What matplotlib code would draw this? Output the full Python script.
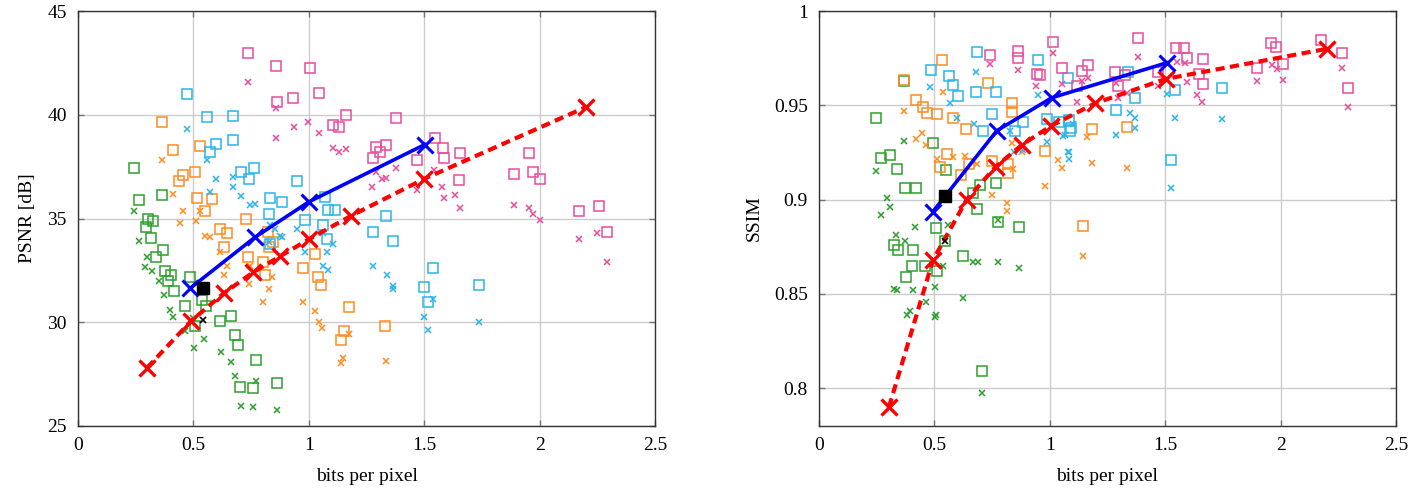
import matplotlib
matplotlib.use("Agg")
import matplotlib.pyplot as plt

plt.rcParams["font.family"] = ["Liberation Serif", "DejaVu Serif"]

GREEN, ORANGE, CYAN, PINK = "#2ca02c", "#ff8c21", "#29b5e8", "#ea4c9c"

# ---------------- left panel: PSNR ----------------
l_green_sq = [(0.242, 37.45), (0.264, 35.9), (0.364, 36.15), (0.303, 35.0), (0.325, 34.86), (0.294, 34.6),
              (0.316, 34.04), (0.368, 33.46), (0.338, 33.13), (0.377, 32.45), (0.403, 32.3), (0.39, 31.97),
              (0.416, 31.5), (0.485, 32.2), (0.463, 30.8), (0.537, 31.06), (0.554, 30.77), (0.506, 29.8),
              (0.615, 30.05), (0.662, 30.3), (0.68, 29.38), (0.693, 28.9), (0.771, 28.2), (0.701, 26.88),
              (0.758, 26.83), (0.861, 27.07)]
l_green_x = [(0.242, 35.34), (0.264, 33.9), (0.299, 33.13), (0.29, 32.64), (0.32, 32.45), (0.351, 31.97),
             (0.372, 31.3), (0.398, 30.6), (0.411, 30.24), (0.463, 29.57), (0.502, 28.75), (0.545, 29.2),
             (0.619, 28.56), (0.662, 28.08), (0.68, 27.4), (0.706, 25.96), (0.758, 25.9), (0.861, 25.77),
             (0.771, 27.16), (0.50, 30.2)]
l_orange_sq = [(0.364, 39.66), (0.411, 38.3), (0.528, 38.5), (0.455, 37.1), (0.506, 37.26), (0.437, 36.8),
               (0.515, 36.0), (0.58, 35.96), (0.55, 35.34), (0.727, 35.0), (0.615, 34.47), (0.645, 34.28),
               (0.632, 33.65), (0.736, 33.13), (0.8, 32.88), (0.81, 32.3), (0.827, 33.65), (0.974, 32.6),
               (0.823, 34.33), (0.844, 33.85), (1.026, 33.27), (1.04, 32.2), (1.052, 31.78), (1.173, 30.72),
               (1.152, 29.57), (1.139, 29.13), (1.329, 29.8)]
l_orange_x = [(0.364, 37.84), (0.411, 36.2), (0.455, 35.34), (0.528, 35.34), (0.442, 34.8), (0.511, 34.86),
              (0.55, 34.18), (0.571, 34.13), (0.615, 33.4), (0.645, 32.7), (0.632, 32.3), (0.74, 31.83),
              (0.8, 30.96), (0.827, 31.6), (0.84, 32.16), (0.974, 30.96), (0.745, 32.7), (1.026, 30.53),
              (1.043, 30.0), (1.056, 29.7), (1.173, 29.42), (1.147, 28.27), (1.139, 28.03), (1.333, 28.13)]
l_cyan_sq = [(0.472, 41.0), (0.558, 39.9), (0.671, 39.95), (0.597, 38.6), (0.671, 38.8), (0.571, 38.2),
             (0.706, 37.26), (0.762, 37.45), (0.74, 36.9), (0.948, 36.8), (0.831, 36.0), (0.883, 35.8),
             (0.827, 35.24), (0.983, 34.95), (1.069, 36.06), (1.082, 35.43), (1.113, 35.43), (1.06, 34.7),
             (1.078, 34.0), (0.831, 33.75), (1.333, 35.14), (1.277, 34.33), (1.364, 33.9), (1.537, 32.6),
             (1.498, 31.68), (1.515, 30.96), (1.736, 31.78)]
l_cyan_x = [(0.472, 39.33), (0.558, 37.8), (0.597, 36.9), (0.671, 37.0), (0.671, 36.5), (0.571, 36.3),
            (0.706, 36.1), (0.745, 35.67), (0.766, 35.7), (0.827, 33.85), (0.874, 34.18), (0.948, 34.47),
            (0.831, 34.7), (0.853, 34.47), (0.883, 34.13), (0.983, 33.4), (1.06, 34.3), (1.104, 33.75),
            (1.06, 32.7), (1.078, 33.37), (1.082, 32.5), (1.277, 32.7), (1.337, 32.3), (1.364, 31.73),
            (1.364, 31.6), (1.537, 31.1), (1.498, 30.24), (1.515, 29.62), (1.736, 30.0)]
l_pink_sq = [(0.736, 42.98), (0.857, 42.36), (1.004, 42.26), (0.861, 40.62), (0.93, 40.8), (1.043, 41.06),
             (1.16, 40.0), (1.104, 39.5), (1.13, 39.42), (1.377, 39.86), (1.29, 38.46), (1.333, 38.56),
             (1.307, 38.22), (1.277, 37.93), (1.468, 37.8), (1.545, 38.9), (1.58, 38.4), (1.584, 37.93),
             (1.654, 38.17), (1.649, 36.87), (1.952, 38.17), (1.887, 37.16), (1.97, 37.26), (2.0, 36.9),
             (2.17, 35.34), (2.256, 35.58), (2.29, 34.33)]
l_pink_x = [(0.736, 41.6), (0.857, 40.34), (0.935, 39.42), (0.86, 38.9), (0.995, 39.67), (1.043, 39.13),
            (1.104, 38.4), (1.13, 38.2), (1.16, 38.37), (1.377, 37.45), (1.29, 37.26), (1.316, 36.9),
            (1.333, 36.97), (1.273, 36.54), (1.468, 36.35), (1.541, 37.36), (1.576, 36.54), (1.584, 36.0),
            (1.632, 36.15), (1.654, 35.53), (1.887, 35.67), (1.952, 35.53), (1.97, 35.2), (2.0, 34.95),
            (2.17, 34.0), (2.25, 34.3), (2.29, 32.9)]

l_blue_bpp = [0.485, 0.766, 1.0, 1.502]
l_blue_psnr = [31.63, 34.09, 35.8, 38.56]
l_red_bpp = [0.299, 0.489, 0.632, 0.758, 0.874, 1.0, 1.185, 1.498, 2.203]
l_red_psnr = [27.8, 30.05, 31.4, 32.4, 33.17, 34.0, 35.14, 36.9, 40.38]
l_black_sq = (0.541, 31.63)
l_black_x = (0.54, 30.1)

# ---------------- right panel: SSIM ----------------
r_green_sq = [(0.247, 0.9434), (0.268, 0.922), (0.307, 0.9238), (0.338, 0.9164), (0.372, 0.9063),
              (0.42, 0.9063), (0.494, 0.930), (0.550, 0.9159), (0.368, 0.963), (0.697, 0.908),
              (0.766, 0.909), (0.684, 0.8952), (0.506, 0.8847), (0.775, 0.888), (0.866, 0.8857),
              (0.325, 0.876), (0.342, 0.8735), (0.407, 0.8735), (0.545, 0.8783), (0.623, 0.870),
              (0.403, 0.865), (0.459, 0.865), (0.511, 0.8624), (0.377, 0.859), (0.706, 0.809),
              (0.667, 0.9037)]
r_green_x = [(0.368, 0.9312), (0.247, 0.9153), (0.294, 0.901), (0.307, 0.8963), (0.268, 0.892),
             (0.775, 0.889), (0.416, 0.8857), (0.333, 0.8815), (0.558, 0.8868), (0.372, 0.8783),
             (0.537, 0.8646), (0.667, 0.8667), (0.688, 0.8672), (0.775, 0.8672), (0.866, 0.8635),
             (0.623, 0.8476), (0.325, 0.8524), (0.34, 0.852), (0.407, 0.852), (0.502, 0.8535),
             (0.463, 0.8455), (0.394, 0.8407), (0.381, 0.8386), (0.506, 0.8386), (0.502, 0.8376),
             (0.706, 0.7974)]
r_orange_sq = [(0.532, 0.974), (0.368, 0.9635), (0.420, 0.953), (0.450, 0.949), (0.468, 0.946),
               (0.511, 0.9455), (0.58, 0.9434), (0.636, 0.9376), (0.732, 0.962), (0.835, 0.951),
               (0.835, 0.9466), (0.554, 0.9243), (0.524, 0.9175), (0.615, 0.9132), (0.649, 0.919),
               (0.749, 0.9206), (0.818, 0.919), (0.818, 0.9143), (0.978, 0.926), (1.182, 0.9376),
               (1.333, 0.9386), (1.143, 0.886)]
r_orange_x = [(0.537, 0.957), (0.368, 0.947), (0.420, 0.932), (0.446, 0.9354), (0.463, 0.929),
              (0.511, 0.9217), (0.58, 0.9228), (0.632, 0.9233), (0.667, 0.9206), (0.749, 0.9026),
              (0.814, 0.898), (0.978, 0.907), (0.835, 0.930), (0.684, 0.919), (0.84, 0.9164),
              (0.879, 0.9254), (1.035, 0.921), (1.052, 0.917), (1.16, 0.9333), (1.182, 0.9196),
              (1.333, 0.917), (1.143, 0.870), (0.814, 0.894)]
r_cyan_sq = [(0.684, 0.9783), (0.485, 0.9688), (0.563, 0.9656), (0.580, 0.9608), (0.602, 0.955),
             (0.680, 0.957), (0.766, 0.957), (0.749, 0.9455), (0.710, 0.9365), (0.848, 0.9365),
             (0.883, 0.941), (0.948, 0.974), (0.987, 0.943), (1.039, 0.941), (1.091, 0.938),
             (1.078, 0.9645), (1.338, 0.9677), (1.368, 0.954), (1.286, 0.9476), (1.082, 0.9423),
             (1.087, 0.9365), (1.541, 0.958), (1.745, 0.959), (1.524, 0.921)]
r_cyan_x = [(0.680, 0.9677), (0.481, 0.9598), (0.567, 0.951), (0.597, 0.9434), (0.671, 0.940),
            (0.827, 0.9365), (0.948, 0.9556), (0.987, 0.9307), (0.844, 0.9254), (0.883, 0.9265),
            (1.056, 0.934), (1.078, 0.925), (1.346, 0.946), (1.368, 0.9434), (1.368, 0.938),
            (1.286, 0.9344), (1.1, 0.94), (1.065, 0.9344), (1.082, 0.9254), (1.082, 0.9217),
            (1.506, 0.956), (1.541, 0.9434), (1.745, 0.9429), (1.524, 0.9063)]
r_pink_sq = [(0.740, 0.9767), (0.861, 0.979), (0.861, 0.975), (0.944, 0.9667), (1.013, 0.9836),
             (1.052, 0.970), (1.139, 0.968), (1.165, 0.9714), (1.117, 0.960), (0.957, 0.966),
             (1.281, 0.9677), (1.325, 0.966), (1.294, 0.960), (1.381, 0.9857), (1.545, 0.9804),
             (1.580, 0.9804), (1.593, 0.975), (1.662, 0.9746), (1.468, 0.9677), (1.645, 0.9667),
             (1.662, 0.9614), (1.896, 0.970), (1.957, 0.983), (1.978, 0.981), (2.009, 0.972),
             (2.177, 0.9847), (2.264, 0.9778), (2.294, 0.9593)]
r_pink_x = [(0.740, 0.972), (0.861, 0.9688), (0.939, 0.96), (1.013, 0.9778), (1.052, 0.9614),
            (1.117, 0.9519), (1.165, 0.9645), (1.139, 0.963), (1.286, 0.962), (1.294, 0.954),
            (1.333, 0.9566), (1.381, 0.9757), (1.468, 0.960), (1.55, 0.973), (1.584, 0.9725),
            (1.593, 0.9624), (1.636, 0.9556), (1.658, 0.9519), (1.896, 0.963), (1.961, 0.9714),
            (1.983, 0.9693), (2.009, 0.9635), (2.264, 0.970), (2.294, 0.949)]

r_blue_bpp = [0.494, 0.77, 1.008, 1.506]
r_blue_ssim = [0.8937, 0.9365, 0.954, 0.9725]
r_red_bpp = [0.303, 0.494, 0.64, 0.766, 0.879, 1.004, 1.195, 1.502, 2.203]
r_red_ssim = [0.79, 0.868, 0.9, 0.9175, 0.929, 0.939, 0.951, 0.964, 0.980]
r_black_sq = (0.545, 0.902)
r_black_x = (0.546, 0.878)

fig = plt.figure(figsize=(14.16, 4.97), dpi=100)
ax_l = fig.add_axes([78 / 1416, 1 - 426 / 497, 577 / 1416, 415 / 497])
ax_r = fig.add_axes([819 / 1416, 1 - 426 / 497, 577 / 1416, 415 / 497])


def scatter(ax, pts, color, sq):
    xs = [p[0] for p in pts]
    ys = [p[1] for p in pts]
    if sq:
        ax.plot(xs, ys, "s", ms=7.5, mfc="none", mec=color, mew=1.1, ls="none")
    else:
        ax.plot(xs, ys, "x", ms=5, color=color, mew=1.1, ls="none")


def panel(ax, data, blue, red, bsq, bx):
    for pts, col, sq in data:
        scatter(ax, pts, col, sq)
    ax.plot(red[0], red[1], color="#ff0000", lw=3, ls=(0, (2.2, 1.3)),
            marker="x", ms=12, mew=2.4, zorder=5)
    ax.plot(blue[0], blue[1], color="#0000ff", lw=2.6, marker="x", ms=12, mew=2.2, zorder=6)
    ax.plot(*bsq, "s", color="black", ms=8, zorder=7)
    ax.plot(*bx, "x", color="black", ms=5, mew=1.2, zorder=7)
    ax.set_xlim(0, 2.5)
    ax.set_xticks([0, 0.5, 1, 1.5, 2, 2.5])
    ax.set_xticklabels(["0", "0.5", "1", "1.5", "2", "2.5"])
    ax.grid(True, color="#cccccc", lw=1)
    ax.set_axisbelow(True)
    ax.tick_params(direction="in", top=True, right=True, length=4, width=1, color="#777777",
                   labelsize=14, pad=8)
    for s in ax.spines.values():
        s.set_color("#333333")
        s.set_linewidth(1)
    ax.set_xlabel("bits per pixel", fontsize=14, labelpad=10)


panel(ax_l,
      [(l_green_sq, GREEN, True), (l_green_x, GREEN, False),
       (l_orange_sq, ORANGE, True), (l_orange_x, ORANGE, False),
       (l_cyan_sq, CYAN, True), (l_cyan_x, CYAN, False),
       (l_pink_sq, PINK, True), (l_pink_x, PINK, False)],
      (l_blue_bpp, l_blue_psnr), (l_red_bpp, l_red_psnr), l_black_sq, l_black_x)
ax_l.set_ylim(25, 45)
ax_l.set_yticks([25, 30, 35, 40, 45])
ax_l.set_ylabel("PSNR [dB]", fontsize=14, labelpad=8)

panel(ax_r,
      [(r_green_sq, GREEN, True), (r_green_x, GREEN, False),
       (r_orange_sq, ORANGE, True), (r_orange_x, ORANGE, False),
       (r_cyan_sq, CYAN, True), (r_cyan_x, CYAN, False),
       (r_pink_sq, PINK, True), (r_pink_x, PINK, False)],
      (r_blue_bpp, r_blue_ssim), (r_red_bpp, r_red_ssim), r_black_sq, r_black_x)
ax_r.set_ylim(0.78, 1.0)
ax_r.set_yticks([0.8, 0.85, 0.9, 0.95, 1.0])
ax_r.set_yticklabels(["0.8", "0.85", "0.9", "0.95", "1"])
ax_r.set_ylabel("SSIM", fontsize=14, labelpad=8)

fig.savefig("out.png", dpi=100)
